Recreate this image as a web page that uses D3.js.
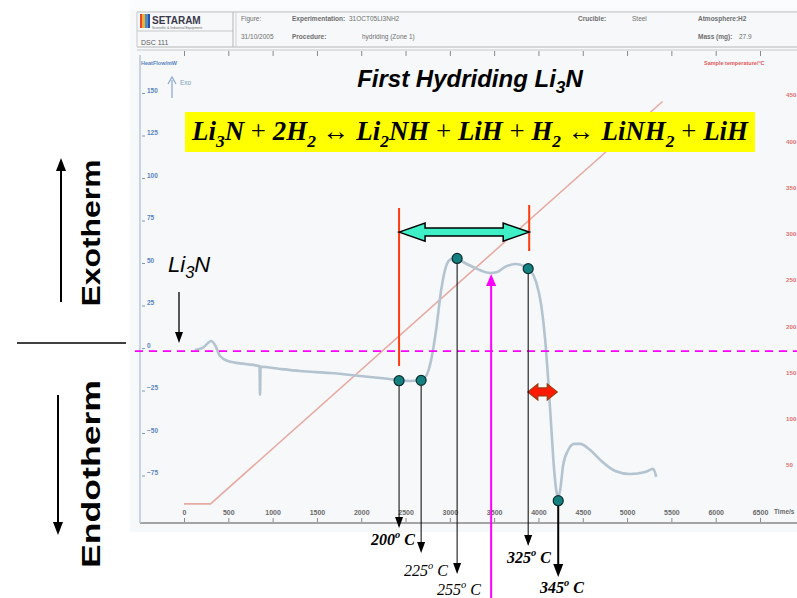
<!DOCTYPE html>
<html>
<head>
<meta charset="utf-8">
<script src="https://cdn.jsdelivr.net/npm/d3@7"></script>
<style>
body{margin:0;background:#fff}
svg{display:block}
</style>
</head>
<body>
<svg width="797" height="598"></svg>
<script>
// DSC trace: time (s) and heat flow (mW)
var hfTime  = [124,215,271,305,350,406,497,689,847,852,858,864,1084,1310,1648,1987,2213,2416,2551,2664,2732,2789,2845,2902,2958,3014,3071,3150,3285,3455,3534,3624,3737,3839,3906,3974,4031,4076,4110,4143,4177,4200,4223,4245,4279,4336,4403,4471,4584,4697,4866,5035,5205,5295,5329];
var hfValue = [-2.4,-1,1.8,2.9,0.6,-5.9,-8.8,-10.6,-11.8,-12,-28.8,-12.2,-13.5,-14.7,-15.9,-17.6,-18.8,-20,-20.6,-20,-17.6,-8.2,9.4,32.9,47,51.2,51.7,49.4,45.9,42.9,43.5,46.5,48.2,47,44.7,37.6,24.1,3.5,-20,-46.5,-72.9,-84.7,-88.8,-84.7,-70,-61.2,-57.6,-57.6,-61.2,-67,-73.5,-75.3,-74.1,-72.3,-77];

// sample temperature programme (s, degC)
var tTime  = [0, 300, 5400];
var tValue = [8, 8, 443];

// marked points on the trace
var markTime  = [2427, 2676, 3082, 3884, 4223];
var markHF    = [-20.4, -20.2, 51.5, 45.5, -91];
var markTemp  = [200, 225, 255, 325, 345];
var markBold  = [true, false, false, true, true];

// axes
var timeTicks = d3.range(0, 7000, 500);
var hfTicks   = [-75,-50,-25,0,25,50,75,100,125,150];
var tempTicks = [50,100,150,200,250,300,350,400,450];

// layout for the annotation arrows (tip y, label x, label baseline)
var arrowTipY = [528, 553, 574, 546, 577];
var labelX    = [371, 404, 437, 507, 540];
var labelY    = [545, 576, 595, 563, 593];

var svg = d3.select("svg");
var sans = "Liberation Sans, Arial, sans-serif";
var serif = "Liberation Serif, Times New Roman, serif";

var x   = d3.scaleLinear().domain([0, 6500]).range([184, 760]);
var yHF = d3.scaleLinear().domain([-75, 150]).range([473.5, 91]);
var yT  = d3.scaleLinear().domain([50, 450]).range([465, 95]);

// instrument panel background
svg.append("rect").attr("x", 130).attr("y", 0).attr("width", 667).attr("height", 532).attr("fill", "#f6f8fa");
svg.append("rect").attr("x", 130).attr("y", 0).attr("width", 667).attr("height", 10).attr("fill", "#fbfcfd");

// header block
var hd = svg.append("g").attr("font-family", sans).attr("font-size", 6.5).attr("fill", "#6e6e6e");
hd.append("line").attr("x1", 137).attr("x2", 797).attr("y1", 12).attr("y2", 12).attr("stroke", "#bdbdbd");
hd.append("line").attr("x1", 137).attr("x2", 797).attr("y1", 47).attr("y2", 47).attr("stroke", "#b5b5b5").attr("stroke-width", 1.2);
hd.append("line").attr("x1", 137).attr("x2", 797).attr("y1", 50).attr("y2", 50).attr("stroke", "#c8c8c8");
hd.append("line").attr("x1", 137).attr("x2", 137).attr("y1", 12).attr("y2", 47).attr("stroke", "#c8c8c8");
hd.append("line").attr("x1", 137).attr("x2", 233).attr("y1", 31).attr("y2", 31).attr("stroke", "#c8c8c8");
hd.append("line").attr("x1", 233).attr("x2", 233).attr("y1", 12).attr("y2", 47).attr("stroke", "#b5b5b5");
hd.append("line").attr("x1", 236).attr("x2", 236).attr("y1", 12).attr("y2", 47).attr("stroke", "#d0d0d0");
var logoCols = ["#e8462a", "#f6b21b", "#3d8fd6", "#2a4fa8"];
logoCols.forEach(function(c, i){
    hd.append("rect").attr("x", 140 + i * 2.5).attr("y", 14).attr("width", 2.5).attr("height", 14).attr("fill", c);
});
hd.append("text").attr("x", 152).attr("y", 24).attr("font-size", 10).attr("font-weight", "bold").attr("fill", "#3a3a4a").text("SETARAM");
hd.append("text").attr("x", 152).attr("y", 29).attr("font-size", 3.5).text("Scientific & Industrial Equipment");
hd.append("text").attr("x", 141).attr("y", 45).attr("font-size", 7).attr("fill", "#5a5a5a").text("DSC 111");
hd.append("text").attr("x", 241).attr("y", 21).text("Figure:");
hd.append("text").attr("x", 292).attr("y", 21).attr("font-weight", "bold").text("Experimentation:");
hd.append("text").attr("x", 349).attr("y", 21).text("31OCT05LI3NH2");
hd.append("text").attr("x", 241).attr("y", 39).text("31/10/2005");
hd.append("text").attr("x", 292).attr("y", 39).attr("font-weight", "bold").text("Procedure:");
hd.append("text").attr("x", 362).attr("y", 39).text("hydriding (Zone 1)");
hd.append("text").attr("x", 578).attr("y", 21).attr("font-weight", "bold").text("Crucible:");
hd.append("text").attr("x", 632).attr("y", 21).text("Steel");
hd.append("text").attr("x", 698).attr("y", 21).attr("font-weight", "bold").text("Atmosphere:H2");
hd.append("text").attr("x", 698).attr("y", 39).attr("font-weight", "bold").text("Mass (mg):");
hd.append("text").attr("x", 739).attr("y", 39).text("27.9");

// top time axis (ticks only)
var topAx = svg.append("g").attr("transform", "translate(0,51)")
    .call(d3.axisBottom(x).tickValues(timeTicks).tickSize(5).tickFormat(""));
topAx.select(".domain").remove();
topAx.selectAll("line").attr("stroke", "#8a8a8a");

// bottom time axis
var botAx = svg.append("g").attr("transform", "translate(0,523)")
    .call(d3.axisTop(x).tickValues(timeTicks).tickSize(5).tickPadding(3).tickFormat(d3.format("d")));
botAx.select(".domain").remove();
botAx.selectAll("line").attr("stroke", "#8a8a8a");
botAx.selectAll("text").attr("font-family", sans).attr("font-size", 7).attr("font-weight", "bold").attr("fill", "#6a6a6a");
svg.append("line").attr("x1", 140).attr("x2", 797).attr("y1", 523).attr("y2", 523).attr("stroke", "#a4a4a4").attr("stroke-width", 2);
svg.append("text").attr("x", 774).attr("y", 514).attr("font-family", sans).attr("font-size", 6.5).attr("font-weight", "bold").attr("fill", "#6a6a6a").text("Time/s");

// left heat flow axis
svg.append("line").attr("x1", 140).attr("x2", 140).attr("y1", 55).attr("y2", 523).attr("stroke", "#b9c9da").attr("stroke-width", 1.5);
var leftAx = svg.append("g").attr("transform", "translate(142,2)")
    .call(d3.axisRight(yHF).tickValues(hfTicks).tickSize(3).tickPadding(2));
leftAx.select(".domain").remove();
leftAx.selectAll("line").attr("stroke", "#7f9cc0");
leftAx.selectAll("text").attr("font-family", sans).attr("font-size", 6.5).attr("font-weight", "bold").attr("fill", "#5a84c0").attr("dy", "-0.1em");
svg.append("text").attr("x", 141).attr("y", 65).attr("font-family", sans).attr("font-size", 5.5).attr("font-weight", "bold").attr("fill", "#5a84c0").text("HeatFlow/mW");
svg.append("line").attr("x1", 172).attr("x2", 172).attr("y1", 98).attr("y2", 80).attr("stroke", "#8aa6cc").attr("stroke-width", 1.2);
svg.append("path").attr("d", "M168,84L172,77L176,84").attr("fill", "none").attr("stroke", "#8aa6cc").attr("stroke-width", 1.2);
svg.append("text").attr("x", 180).attr("y", 85).attr("font-family", sans).attr("font-size", 6.5).attr("fill", "#7f9cc0").text("Exo");

// right temperature axis, squeezed against the edge
var rightAx = svg.append("g").attr("transform", "translate(785,0)")
    .call(d3.axisRight(yT).tickValues(tempTicks).tickSize(0).tickPadding(1));
rightAx.select(".domain").remove();
rightAx.selectAll("text").attr("font-family", sans).attr("font-size", 6.2).attr("font-weight", "bold").attr("fill", "#e07070");
svg.append("text").attr("x", 704).attr("y", 65).attr("font-family", sans).attr("font-size", 5.5).attr("font-weight", "bold").attr("fill", "#e05a5a").text("Sample temperature/\u00B0C");

// temperature line
var tData = tTime.map(function(t, i){ return [t, tValue[i]]; });
svg.append("path").datum(tData)
    .attr("d", d3.line().x(function(d){ return x(d[0]); }).y(function(d){ return yT(d[1]); }))
    .attr("fill", "none").attr("stroke", "#e7aaa2").attr("stroke-width", 1.6);

// heat flow trace
var hfData = hfTime.map(function(t, i){ return [t, hfValue[i]]; });
svg.append("path").datum(hfData)
    .attr("d", d3.line().curve(d3.curveMonotoneX).x(function(d){ return x(d[0]); }).y(function(d){ return yHF(d[1]); }))
    .attr("fill", "none").attr("stroke", "#b3c3d0").attr("stroke-width", 2.6).attr("stroke-linejoin", "round");

// ---------- annotations ----------
var ann = svg.append("g");

// zero line
ann.append("line").attr("x1", 135).attr("x2", 797).attr("y1", yHF(-3)).attr("y2", yHF(-3))
    .attr("stroke", "#ff00ff").attr("stroke-width", 1.6).attr("stroke-dasharray", "8,6");
ann.append("line").attr("x1", 17).attr("x2", 126).attr("y1", 343).attr("y2", 343).attr("stroke", "#000").attr("stroke-width", 1.3);

function arrowHead(g, xTip, yTip, dir, w, l, fill){
    // dir: 1 points down, -1 points up
    g.append("path")
        .attr("d", "M" + xTip + "," + yTip + "L" + (xTip - w / 2) + "," + (yTip - dir * l) + "L" + (xTip + w / 2) + "," + (yTip - dir * l) + "Z")
        .attr("fill", fill);
}

// Exotherm / Endotherm
ann.append("line").attr("x1", 61).attr("x2", 61).attr("y1", 302).attr("y2", 168).attr("stroke", "#000").attr("stroke-width", 2);
arrowHead(ann, 61, 158, -1, 10, 13, "#000");
ann.append("line").attr("x1", 58).attr("x2", 58).attr("y1", 395).attr("y2", 525).attr("stroke", "#000").attr("stroke-width", 2);
arrowHead(ann, 58, 535, 1, 10, 13, "#000");
ann.append("text").attr("transform", "translate(100,233) rotate(-90)").attr("text-anchor", "middle")
    .attr("font-family", sans).attr("font-weight", "bold").attr("font-size", 26)
    .attr("textLength", 147).attr("lengthAdjust", "spacingAndGlyphs").text("Exotherm");
ann.append("text").attr("transform", "translate(100,474) rotate(-90)").attr("text-anchor", "middle")
    .attr("font-family", sans).attr("font-weight", "bold").attr("font-size", 26)
    .attr("textLength", 188).attr("lengthAdjust", "spacingAndGlyphs").text("Endotherm");

// rich text helper: parts are [string, kind]
function richText(g, parts, subScale, fontSize){
    var t = g.append("text").attr("font-size", fontSize);
    var shift = 0;
    parts.forEach(function(p){
        var ts = t.append("tspan").text(p[0]);
        var target = (p[1] == "sub") ? 0.25 : (p[1] == "sup" ? -0.42 : 0);
        var small = (p[1] == "sub" || p[1] == "sup");
        if(small) ts.attr("font-size", Math.round(subScale * 100) + "%");
        if(p[1] == "op") ts.attr("font-style", "normal").attr("font-weight", "normal");
        var d = (target - shift) * fontSize;
        if(d != 0) ts.attr("dy", d);
        shift = target;
    });
    return t;
}

// title
richText(ann, [["First Hydriding Li"], ["3", "sub"], ["N"]], 0.72, 24)
    .attr("x", 470).attr("y", 87).attr("text-anchor", "middle")
    .attr("font-family", sans).attr("font-weight", "bold").attr("font-style", "italic");

// reaction box
ann.append("rect").attr("x", 185).attr("y", 112).attr("width", 570).attr("height", 40).attr("fill", "#ffff00");
var eqParts = [["Li"],["3","sub"],["N"],[" + ","op"],["2H"],["2","sub"],[" \u2194 ","op"],["Li"],["2","sub"],["NH"],[" + ","op"],["LiH"],[" + ","op"],["H"],["2","sub"],[" \u2194 ","op"],["LiNH"],["2","sub"],[" + ","op"],["LiH"]];
var eqG = ann.append("g").attr("font-family", serif).attr("font-weight", "bold").attr("font-style", "italic");
var eq = richText(eqG, eqParts, 0.65, 27).attr("x", 192).attr("y", 140);
var eqW = eq.node().getComputedTextLength();
eq.remove();
var eqSize = 27 * 556 / eqW;
eq = richText(eqG, eqParts, 0.65, eqSize).attr("x", 192).attr("y", 140);

// Li3N starting label
richText(ann, [["Li"], ["3", "sub"], ["N"]], 0.75, 22)
    .attr("x", 168).attr("y", 272).attr("font-family", sans).attr("font-style", "italic");
ann.append("line").attr("x1", 179).attr("x2", 179).attr("y1", 292).attr("y2", 333).attr("stroke", "#000").attr("stroke-width", 1.3);
arrowHead(ann, 179, 343, 1, 8, 11, "#000");

// bracket for the exothermic window
var winStart = markTime[0], winEnd = markTime[3];
ann.append("line").attr("x1", x(winStart)).attr("x2", x(winStart)).attr("y1", 208).attr("y2", 366).attr("stroke", "#ff3a10").attr("stroke-width", 2);
ann.append("line").attr("x1", x(winEnd) + 1).attr("x2", x(winEnd) + 1).attr("y1", 205).attr("y2", 251).attr("stroke", "#ff3a10").attr("stroke-width", 2);

function blockArrow(x1, x2, y, sh, hh, hl){
    return "M" + x1 + "," + y +
        "L" + (x1 + hl) + "," + (y - hh / 2) + "L" + (x1 + hl) + "," + (y - sh / 2) +
        "L" + (x2 - hl) + "," + (y - sh / 2) + "L" + (x2 - hl) + "," + (y - hh / 2) +
        "L" + x2 + "," + y +
        "L" + (x2 - hl) + "," + (y + hh / 2) + "L" + (x2 - hl) + "," + (y + sh / 2) +
        "L" + (x1 + hl) + "," + (y + sh / 2) + "L" + (x1 + hl) + "," + (y + hh / 2) + "Z";
}
ann.append("path").attr("d", blockArrow(x(winStart), x(winEnd) + 1, yHF(67), 8, 18, 26))
    .attr("fill", "#3ff0c6").attr("stroke", "#000").attr("stroke-width", 1.5);
ann.append("path").attr("d", blockArrow(x(3880), x(4212), yHF(-27), 8, 16, 10))
    .attr("fill", "#ff1a00").attr("stroke", "#9a3a10").attr("stroke-width", 1.2);

// magenta pointer
ann.append("line").attr("x1", x(3466)).attr("x2", x(3466)).attr("y1", 598).attr("y2", 284).attr("stroke", "#ff00ff").attr("stroke-width", 2);
arrowHead(ann, x(3466), 274, -1, 10, 12, "#ff00ff");

// drop lines, arrows and temperature labels
markTime.forEach(function(t, i){
    var px = x(t), py = yHF(markHF[i]);
    var thick = (i == 4);
    ann.append("line").attr("x1", px).attr("x2", px).attr("y1", py).attr("y2", arrowTipY[i] - (thick ? 12 : 10))
        .attr("stroke", "#000").attr("stroke-width", thick ? 2 : 1);
    arrowHead(ann, px, arrowTipY[i], 1, thick ? 10 : 8, thick ? 13 : 11, "#000");
    var lg = ann.append("g").attr("font-family", serif).attr("font-style", "italic")
        .attr("font-weight", markBold[i] ? "bold" : "normal");
    richText(lg, [[String(markTemp[i])], ["o", "sup"], [" C"]], 0.65, 16).attr("x", labelX[i]).attr("y", labelY[i]);
});

// marker dots
ann.selectAll("circle.mk").data(markTime).enter().append("circle")
    .attr("class", "mk")
    .attr("cx", function(d){ return x(d); })
    .attr("cy", function(d, i){ return yHF(markHF[i]); })
    .attr("r", 5)
    .attr("fill", "#14807f").attr("stroke", "#0b2e30").attr("stroke-width", 1.2);
</script>
</body>
</html>
